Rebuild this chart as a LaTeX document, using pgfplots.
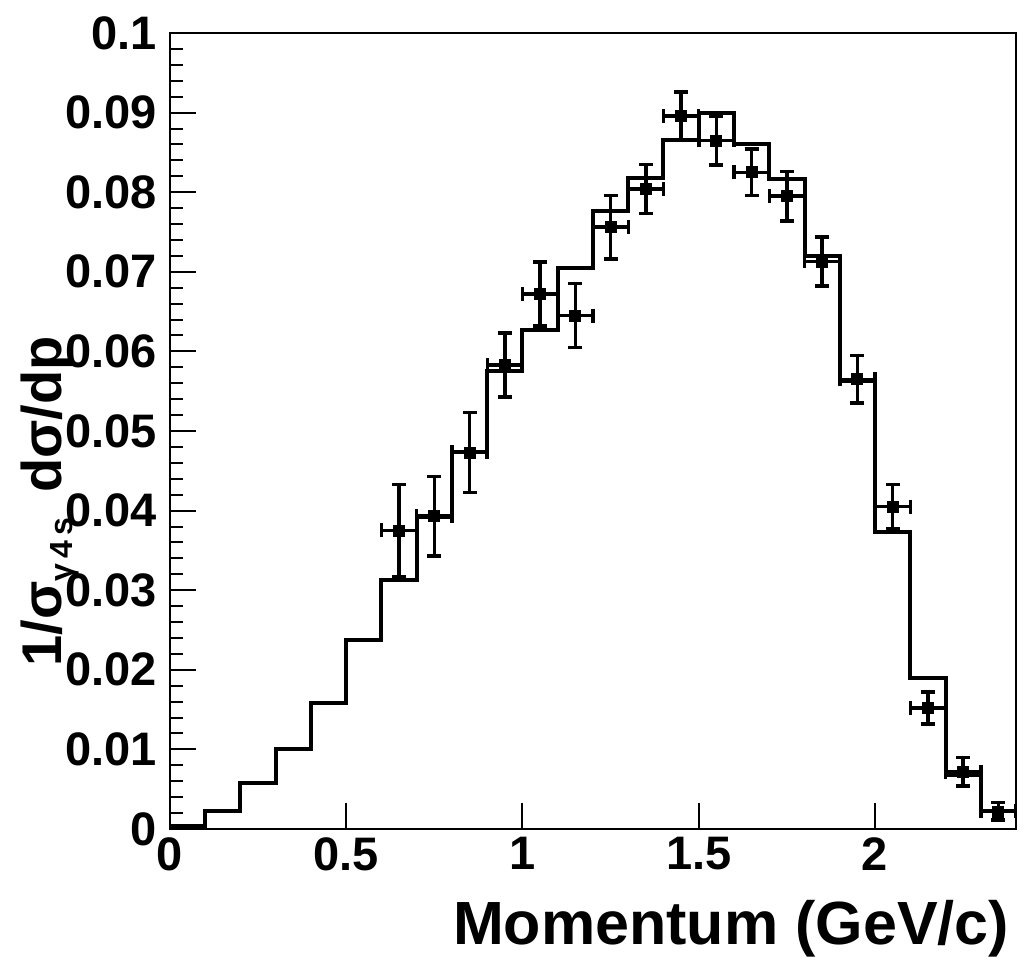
\documentclass[border=0pt]{standalone}
\usepackage{pgfplots}
\pgfplotsset{compat=1.18}
\usepackage{fontspec}
\setmainfont{Liberation Sans}
\pgfplotstableread{
x    y       ex    ey
0.65 0.0375  0.05  0.0058
0.75 0.0393  0.05  0.0050
0.85 0.0473  0.05  0.0050
0.95 0.0583  0.05  0.0040
1.05 0.0672  0.05  0.0040
1.15 0.0645  0.05  0.0040
1.25 0.0756  0.05  0.0040
1.35 0.0804  0.05  0.0031
1.45 0.0896  0.05  0.0030
1.55 0.0865  0.05  0.0031
1.65 0.0825  0.05  0.0029
1.75 0.0795  0.05  0.0031
1.85 0.0713  0.05  0.0031
1.95 0.0565  0.05  0.0030
2.05 0.0405  0.05  0.0028
2.15 0.0152  0.05  0.0020
2.25 0.0072  0.05  0.0018
2.35 0.0022  0.05  0.0011
}\datapoints
\begin{document}
\begin{tikzpicture}
\begin{axis}[
  name=ax, at={(0,0)}, anchor=south west,
  scale only axis, width=423pt, height=398pt,
  xmin=0, xmax=2.4, ymin=0, ymax=0.1,
  axis line style={line width=1.3pt},
  tick align=inside, tick pos=left,
  xtick={0,0.5,1,1.5,2}, xticklabels={0,0.5,1,1.5,2},
  ytick={0,0.01,0.02,0.03,0.04,0.05,0.06,0.07,0.08,0.09,0.1},
  yticklabels={0,0.01,0.02,0.03,0.04,0.05,0.06,0.07,0.08,0.09,0.1},
  minor y tick num=4,
  major tick length=13pt, minor tick length=6.5pt,
  every tick/.style={line width=1pt, black},
  ticklabel style={font=\fontsize{23.5pt}{28pt}\selectfont\bfseries, inner sep=0pt},
  yticklabel style={xshift=-6.5pt},
  xticklabel style={yshift=-4pt},
]
\addplot[const plot, line width=2pt, black, no marks] coordinates {
(0.0,0.0004) (0.1,0.0022) (0.2,0.0058) (0.3,0.0100) (0.4,0.0158)
(0.5,0.0237) (0.6,0.0313) (0.7,0.0392) (0.8,0.0473) (0.9,0.0575)
(1.0,0.0627) (1.1,0.0705) (1.2,0.0776) (1.3,0.0818) (1.4,0.0866)
(1.5,0.0899) (1.6,0.0861) (1.7,0.0817) (1.8,0.0720) (1.9,0.0563)
(2.0,0.0373) (2.1,0.0190) (2.2,0.0068) (2.3,0.0022) (2.4,0.0022)
};
\addplot[only marks, mark=square*, mark size=2.75pt, black,
  error bars/.cd, x dir=both, x explicit, y dir=both, y explicit,
  error bar style={line width=1.75pt},
  error mark options={rotate=90, line width=1.75pt, mark size=3.5pt}]
  table[x=x, y=y, x error=ex, y error=ey]{\datapoints};
\end{axis}
\node[anchor=base east, font=\fontsize{30.5pt}{36pt}\selectfont\bfseries]
  at (423pt,-58pt) {Momentum (GeV/c)};
\node[anchor=base west, rotate=90, font=\fontsize{28pt}{32pt}\selectfont\bfseries, inner sep=0pt]
  at (-54pt,81pt) {1/σ\raisebox{-5.5pt}{\fontsize{16pt}{20pt}\selectfont γ\,4\,s}\, dσ/dp};
\path[use as bounding box] (-85pt,-63pt) rectangle (429.5pt,414.5pt);
\end{tikzpicture}
\end{document}
